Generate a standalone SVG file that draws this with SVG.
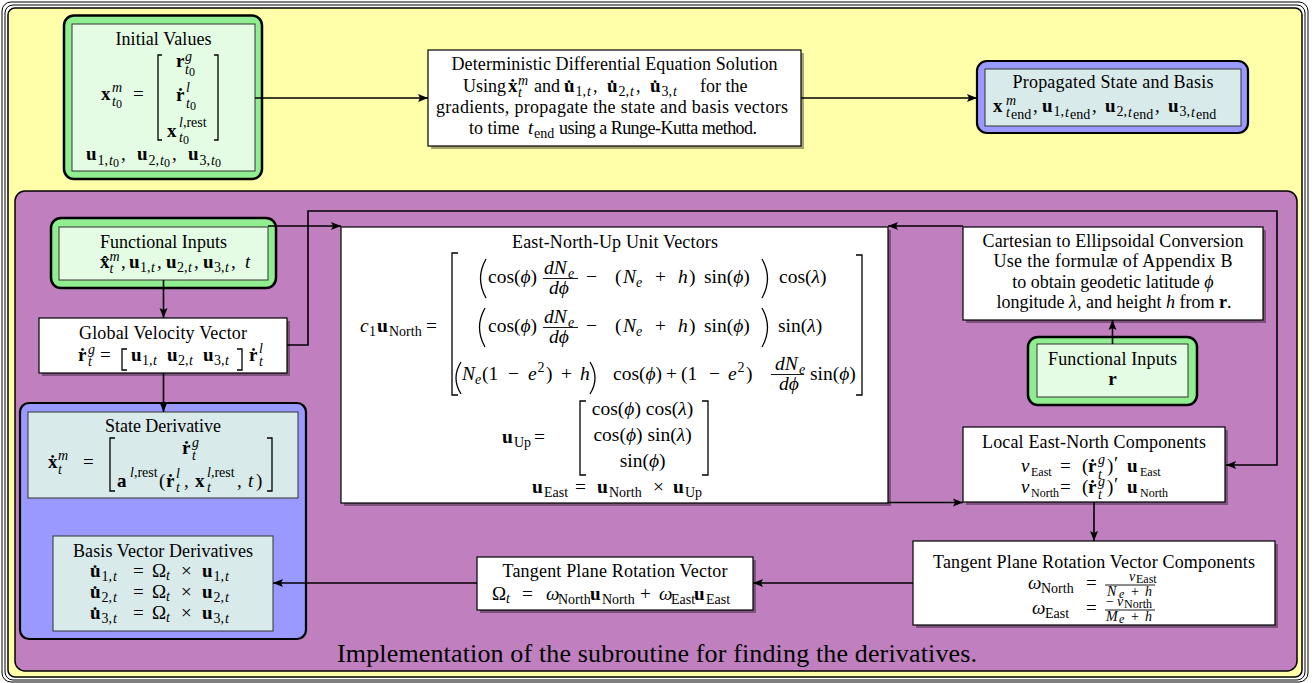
<svg xmlns="http://www.w3.org/2000/svg" width="1312" height="683" viewBox="0 0 1312 683">
<style>
.t{font-family:"Liberation Serif","DejaVu Serif",serif;font-size:18px;fill:#000}
.mid{text-anchor:middle}
.m{font-size:19px}
.e{font-size:19.5px}
.b{font-weight:700}
.i{font-style:italic}
.s{font-size:14px}
.xs{font-size:12px}
.cap{font-size:26px}
.box{fill:#fff;stroke:#000;stroke-width:1.2}
.sh{fill:#000;opacity:.35}
.gout{fill:#90EE90;stroke:#000;stroke-width:2.5}
.gin{fill:#E3FCE3;stroke:#333;stroke-width:1}
.bout{fill:#9999FF;stroke:#000;stroke-width:2.2}
.bin{fill:#D8EAEA;stroke:#333;stroke-width:1}
.br{fill:none;stroke:#000;stroke-width:1.3}
.fb{fill:none;stroke:#000;stroke-width:0.9}
.ln{fill:none;stroke:#000;stroke-width:1.6;marker-end:url(#ah)}
</style>
<defs>
<marker id="ah" viewBox="0 0 10 10" refX="10" refY="5" markerWidth="10" markerHeight="10" markerUnits="userSpaceOnUse" orient="auto">
<path d="M0,1 L10,5 L0,9 L2,5 z" fill="#000"/>
</marker>
</defs>

<!-- frame -->
<rect x="2" y="2" width="1306" height="680" rx="9" fill="#fff" stroke="#000" stroke-width="1"/>
<rect x="5" y="5" width="1300" height="675" rx="8" fill="none" stroke="#000" stroke-width="1"/>
<rect x="8" y="8" width="1294" height="669" rx="7" fill="#FFFFAA" stroke="#000" stroke-width="1.5"/>
<rect x="15" y="191" width="1282" height="480" rx="10" fill="#C080C0" stroke="#000" stroke-width="1.5"/>

<g id="initial-values">
<rect class="gout" x="64" y="15.5" width="198" height="163.5" rx="10"/>
<rect class="gin" x="72" y="24" width="183" height="147"/>
<text class="t mid" x="163.5" y="45" textLength="96">Initial Values</text>
<text class="t m">
<tspan class="b" x="101" y="100">x</tspan><tspan class="s i" x="112" y="92">m</tspan><tspan class="s i" x="112" y="106">t</tspan><tspan class="xs" x="116" y="108">0</tspan>
<tspan x="133" y="100">=</tspan>
<tspan class="b" x="176" y="67">r</tspan><tspan class="s i" x="185" y="61">g</tspan><tspan class="s i" x="185" y="74">t</tspan><tspan class="xs" x="189" y="76">0</tspan>
<tspan class="b" x="176" y="101">ṙ</tspan><tspan class="s i" x="186" y="92">l</tspan><tspan class="s i" x="186" y="108">t</tspan><tspan class="xs" x="190" y="110">0</tspan>
<tspan class="b" x="167" y="137">x</tspan><tspan class="s" x="179" y="127"><tspan class="i">l</tspan>,rest</tspan><tspan class="s i" x="179" y="142">t</tspan><tspan class="xs" x="183" y="144">0</tspan>
<tspan class="b" x="86" y="160">u</tspan><tspan class="s" x="97.5" y="165">1,</tspan><tspan class="s i" x="109" y="165">t</tspan><tspan class="xs" x="113" y="167">0</tspan><tspan x="121" y="160">,</tspan>
<tspan class="b" x="137" y="160">u</tspan><tspan class="s" x="148.5" y="165">2,</tspan><tspan class="s i" x="160" y="165">t</tspan><tspan class="xs" x="164" y="167">0</tspan><tspan x="172" y="160">,</tspan>
<tspan class="b" x="188" y="160">u</tspan><tspan class="s" x="199.5" y="165">3,</tspan><tspan class="s i" x="211" y="165">t</tspan><tspan class="xs" x="215" y="167">0</tspan>
</text>
<path class="br" d="M162,55 H158 V140 H162 M214,55 H218 V140 H214"/>
</g>

<g id="dde">
<rect class="sh" x="431" y="53" width="373" height="96"/>
<rect class="box" x="428" y="50" width="373" height="96"/>
<text class="t mid" x="614.5" y="70" textLength="326">Deterministic Differential Equation Solution</text>
<text class="t">
<tspan x="463" y="92">Using</tspan>
<tspan class="b m" x="508" y="92">ẋ</tspan><tspan class="s i" x="518" y="85">m</tspan><tspan class="s i" x="518" y="97">t</tspan>
<tspan x="534" y="92">and</tspan>
<tspan class="b m" x="564" y="92">u̇</tspan><tspan class="s" x="575.5" y="96">1,</tspan><tspan class="s i" x="587" y="96">t</tspan><tspan x="593" y="92">,</tspan>
<tspan class="b m" x="607" y="92">u̇</tspan><tspan class="s" x="618.5" y="96">2,</tspan><tspan class="s i" x="630" y="96">t</tspan><tspan x="636" y="92">,</tspan>
<tspan class="b m" x="650" y="92">u̇</tspan><tspan class="s" x="661.5" y="96">3,</tspan><tspan class="s i" x="673" y="96">t</tspan>
<tspan x="700" y="92">for the</tspan>
</text>
<text class="t mid" x="612" y="113" textLength="352">gradients, propagate the state and basis vectors</text>
<text class="t">
<tspan x="469" y="134">to time</tspan><tspan class="i m" x="528" y="134">t</tspan><tspan class="s" x="534" y="138">end</tspan>
<tspan x="559" y="134" textLength="198">using a Runge-Kutta method.</tspan>
</text>
</g>

<g id="propagated">
<rect class="bout" x="977" y="61" width="271" height="72" rx="10"/>
<rect class="bin" x="985" y="69" width="256" height="57"/>
<text class="t mid" x="1113" y="88" textLength="201">Propagated State and Basis</text>
<text class="t m">
<tspan class="b" x="993" y="112">x</tspan><tspan class="s i" x="1006" y="105">m</tspan><tspan class="s i" x="1006" y="117">t</tspan><tspan class="s" x="1011" y="119">end</tspan><tspan x="1033" y="112">,</tspan>
<tspan class="b" x="1042" y="112">u</tspan><tspan class="s" x="1053.5" y="116">1,</tspan><tspan class="s i" x="1065" y="117">t</tspan><tspan class="s" x="1070" y="119">end</tspan><tspan x="1092" y="112">,</tspan>
<tspan class="b" x="1105" y="112">u</tspan><tspan class="s" x="1116.5" y="116">2,</tspan><tspan class="s i" x="1128" y="117">t</tspan><tspan class="s" x="1133" y="119">end</tspan><tspan x="1155" y="112">,</tspan>
<tspan class="b" x="1168" y="112">u</tspan><tspan class="s" x="1179.5" y="116">3,</tspan><tspan class="s i" x="1191" y="117">t</tspan><tspan class="s" x="1196" y="119">end</tspan>
</text>
</g>

<g id="functional-inputs-left">
<rect class="gout" x="51" y="218" width="225" height="70" rx="10"/>
<rect class="gin" x="59" y="227" width="209" height="53"/>
<text class="t mid" x="163.5" y="248" textLength="127">Functional Inputs</text>
<text class="t m">
<tspan class="b" x="100" y="268">x̂</tspan><tspan class="s i" x="109.5" y="261">m</tspan><tspan class="s i" x="109.5" y="273">t</tspan><tspan x="121" y="268">,</tspan>
<tspan class="b" x="129" y="268">u</tspan><tspan class="s" x="140" y="272">1,</tspan><tspan class="s i" x="151" y="272">t</tspan><tspan x="157" y="268">,</tspan>
<tspan class="b" x="166" y="268">u</tspan><tspan class="s" x="177" y="272">2,</tspan><tspan class="s i" x="188" y="272">t</tspan><tspan x="194" y="268">,</tspan>
<tspan class="b" x="203" y="268">u</tspan><tspan class="s" x="214" y="272">3,</tspan><tspan class="s i" x="225" y="272">t</tspan><tspan x="231" y="268">,</tspan>
<tspan class="i" x="245" y="268">t</tspan>
</text>
</g>

<g id="global-velocity">
<rect class="sh" x="42" y="321" width="248" height="55"/>
<rect class="box" x="39" y="318" width="248" height="55"/>
<text class="t mid" x="163" y="339" textLength="168">Global Velocity Vector</text>
<text class="t m">
<tspan class="b" x="78" y="361">ṙ</tspan><tspan class="s i" x="88" y="354">g</tspan><tspan class="s i" x="88" y="366">t</tspan>
<tspan x="100" y="361">=</tspan>
<tspan class="b" x="131" y="361">u</tspan><tspan class="s" x="142" y="365">1,</tspan><tspan class="s i" x="153" y="365">t</tspan>
<tspan class="b" x="167" y="361">u</tspan><tspan class="s" x="178" y="365">2,</tspan><tspan class="s i" x="189" y="365">t</tspan>
<tspan class="b" x="203" y="361">u</tspan><tspan class="s" x="214" y="365">3,</tspan><tspan class="s i" x="225" y="365">t</tspan>
<tspan class="b" x="249" y="361">ṙ</tspan><tspan class="s i" x="259" y="353">l</tspan><tspan class="s i" x="259" y="366">t</tspan>
</text>
<path class="br" d="M127,349 H122 V370 H127 M237,349 H242 V370 H237"/>
</g>

<g id="derivatives">
<rect class="bout" x="20" y="403" width="286" height="236" rx="9"/>
<g id="state-derivative">
<rect class="bin" x="28" y="412" width="270" height="86"/>
<text class="t mid" x="163" y="432" textLength="116">State Derivative</text>
<text class="t m">
<tspan class="b" x="48" y="468">ẋ</tspan><tspan class="s i" x="58" y="460">m</tspan><tspan class="s i" x="58" y="474">t</tspan>
<tspan x="83" y="468">=</tspan>
<tspan class="b" x="182" y="454">ṙ</tspan><tspan class="s i" x="192" y="447">g</tspan><tspan class="s i" x="192" y="460">t</tspan>
<tspan class="b" x="117" y="487">a</tspan><tspan class="s" x="130" y="477"><tspan class="i">l</tspan>,rest</tspan>
<tspan x="159" y="487">(</tspan><tspan class="b" x="166" y="487">ṙ</tspan><tspan class="s i" x="176" y="478">l</tspan><tspan class="s i" x="176" y="492">t</tspan><tspan x="184" y="487">,</tspan>
<tspan class="b" x="195" y="487">x</tspan><tspan class="s" x="207" y="477"><tspan class="i">l</tspan>,rest</tspan><tspan class="s i" x="207" y="492">t</tspan><tspan x="237" y="487">,</tspan>
<tspan class="i" x="248" y="487">t</tspan><tspan x="256" y="487">)</tspan>
</text>
<path class="br" d="M115,438 H110 V491 H115 M267,438 H272 V491 H267"/>
</g>
<g id="basis-derivatives">
<rect class="bin" x="53" y="536" width="220" height="95"/>
<text class="t mid" x="163" y="557" textLength="180">Basis Vector Derivatives</text>
<text class="t m">
<tspan class="b" x="90" y="577">u̇</tspan><tspan class="s" x="101.5" y="581">1,</tspan><tspan class="s i" x="113" y="581">t</tspan><tspan x="133" y="577">=</tspan><tspan x="152" y="577">Ω</tspan><tspan class="s i" x="166" y="580">t</tspan><tspan x="181" y="577">×</tspan><tspan class="b" x="202" y="577">u</tspan><tspan class="s" x="213.5" y="581">1,</tspan><tspan class="s i" x="225" y="581">t</tspan>
<tspan class="b" x="90" y="598">u̇</tspan><tspan class="s" x="101.5" y="602">2,</tspan><tspan class="s i" x="113" y="602">t</tspan><tspan x="133" y="598">=</tspan><tspan x="152" y="598">Ω</tspan><tspan class="s i" x="166" y="601">t</tspan><tspan x="181" y="598">×</tspan><tspan class="b" x="202" y="598">u</tspan><tspan class="s" x="213.5" y="602">2,</tspan><tspan class="s i" x="225" y="602">t</tspan>
<tspan class="b" x="90" y="619">u̇</tspan><tspan class="s" x="101.5" y="623">3,</tspan><tspan class="s i" x="113" y="623">t</tspan><tspan x="133" y="619">=</tspan><tspan x="152" y="619">Ω</tspan><tspan class="s i" x="166" y="622">t</tspan><tspan x="181" y="619">×</tspan><tspan class="b" x="202" y="619">u</tspan><tspan class="s" x="213.5" y="623">3,</tspan><tspan class="s i" x="225" y="623">t</tspan>
</text>
</g>
</g>

<g id="enu">
<rect class="sh" x="344" y="230" width="547" height="276"/>
<rect class="box" x="341" y="227" width="547" height="276"/>
<text class="t mid" x="615" y="248" textLength="206">East-North-Up Unit Vectors</text>
<text class="t e">
<tspan class="i" x="360" y="332">c</tspan><tspan class="s" x="369" y="336">1</tspan><tspan class="b" x="377" y="332">u</tspan><tspan class="s" x="389" y="336">North</tspan><tspan x="426" y="332">=</tspan>

<tspan x="488" y="283">cos(<tspan class="i">ϕ</tspan>)</tspan>
<tspan class="i" x="544" y="274">dN</tspan><tspan class="s i" x="568" y="278">e</tspan>
<tspan class="i" x="549" y="294">dϕ</tspan>
<tspan x="586" y="283">−</tspan>
<tspan x="615" y="283">(</tspan><tspan class="i" x="623" y="283">N</tspan><tspan class="s i" x="636" y="287">e</tspan>
<tspan x="655" y="283">+</tspan><tspan class="i" x="678" y="283">h</tspan><tspan x="689" y="283">)</tspan>
<tspan x="704" y="283">sin(<tspan class="i">ϕ</tspan>)</tspan>
<tspan x="779" y="283">cos(<tspan class="i">λ</tspan>)</tspan>

<tspan x="488" y="332">cos(<tspan class="i">ϕ</tspan>)</tspan>
<tspan class="i" x="544" y="323">dN</tspan><tspan class="s i" x="568" y="327">e</tspan>
<tspan class="i" x="549" y="343">dϕ</tspan>
<tspan x="586" y="332">−</tspan>
<tspan x="615" y="332">(</tspan><tspan class="i" x="623" y="332">N</tspan><tspan class="s i" x="636" y="336">e</tspan>
<tspan x="655" y="332">+</tspan><tspan class="i" x="678" y="332">h</tspan><tspan x="689" y="332">)</tspan>
<tspan x="704" y="332">sin(<tspan class="i">ϕ</tspan>)</tspan>
<tspan x="778" y="332">sin(<tspan class="i">λ</tspan>)</tspan>

<tspan class="i" x="462" y="380">N</tspan><tspan class="s i" x="475" y="384">e</tspan>
<tspan x="482" y="380">(1</tspan><tspan x="508" y="380">−</tspan><tspan class="i" x="528" y="380">e</tspan><tspan class="s" x="537.5" y="372">2</tspan><tspan x="546" y="380">)</tspan>
<tspan x="561" y="380">+</tspan><tspan class="i" x="580" y="380">h</tspan>
<tspan x="613" y="380">cos(<tspan class="i">ϕ</tspan>)</tspan><tspan x="666" y="380">+</tspan><tspan x="681" y="380">(1</tspan><tspan x="709" y="380">−</tspan><tspan class="i" x="728" y="380">e</tspan><tspan class="s" x="737.5" y="372">2</tspan><tspan x="746" y="380">)</tspan>
<tspan class="i" x="775" y="370">dN</tspan><tspan class="s i" x="799" y="374">e</tspan>
<tspan class="i" x="779" y="390">dϕ</tspan>
<tspan x="810" y="380">sin(<tspan class="i">ϕ</tspan>)</tspan>

<tspan class="b" x="502" y="443">u</tspan><tspan class="s" x="514" y="447">Up</tspan><tspan x="534" y="443">=</tspan>
<tspan x="645" y="415" text-anchor="middle">cos(<tspan class="i">ϕ</tspan>) cos(<tspan class="i">λ</tspan>)</tspan>
<tspan x="645" y="441" text-anchor="middle">cos(<tspan class="i">ϕ</tspan>) sin(<tspan class="i">λ</tspan>)</tspan>
<tspan x="645" y="467" text-anchor="middle">sin(<tspan class="i">ϕ</tspan>)</tspan>

<tspan class="b" x="532" y="493">u</tspan><tspan class="s" x="544" y="497">East</tspan><tspan x="575" y="493">=</tspan>
<tspan class="b" x="597" y="493">u</tspan><tspan class="s" x="609" y="497">North</tspan><tspan x="653" y="493">×</tspan>
<tspan class="b" x="673" y="493">u</tspan><tspan class="s" x="685" y="497">Up</tspan>
</text>
<path class="br" d="M458,253 H452 V395 H458 M856,255 H862 V395 H856 M586,401 H580 V475 H586 M702,401 H708 V475 H702"/>
<path class="br" d="M486,259 Q475,278.5 486,298 M762,259 Q773,278.5 762,298 M485,308 Q474,327.5 485,347 M762,308 Q773,327.5 762,347 M461,362 Q451,378 461,394 M590,362 Q600,378 590,394"/>
<path class="fb" d="M543,278.5 H578 M543,327.5 H578 M771,374.5 H804"/>
</g>

<g id="cartesian">
<rect class="sh" x="966" y="230" width="300" height="93"/>
<rect class="box" x="963" y="227" width="300" height="93"/>
<text class="t mid" x="1113" y="247" textLength="261">Cartesian to Ellipsoidal Conversion</text>
<text class="t mid" x="1113" y="267" textLength="239">Use the formulæ of Appendix B</text>
<text class="t mid" x="1113" y="288">to obtain geodetic latitude <tspan class="i">ϕ</tspan></text>
<text class="t mid" x="1114" y="308">longitude <tspan class="i">λ</tspan>, and height <tspan class="i">h</tspan> from <tspan class="b">r</tspan>.</text>
</g>

<g id="functional-inputs-r">
<rect class="gout" x="1028" y="337" width="169" height="68" rx="10"/>
<rect class="gin" x="1037" y="344" width="151" height="53"/>
<text class="t mid" x="1112.5" y="365" textLength="129">Functional Inputs</text>
<text class="t mid b m" x="1112.5" y="385">r</text>
</g>

<g id="local-east-north">
<rect class="sh" x="966" y="430" width="262" height="75"/>
<rect class="box" x="963" y="427" width="262" height="75"/>
<text class="t mid" x="1094" y="448" textLength="224">Local East-North Components</text>
<text class="t m">
<tspan class="i" x="1021" y="472">v</tspan><tspan class="xs" x="1031" y="476">East</tspan><tspan x="1060" y="472">=</tspan><tspan x="1082" y="472">(</tspan><tspan class="b" x="1088" y="472">ṙ</tspan><tspan class="s i" x="1098" y="464">g</tspan><tspan class="s i" x="1098" y="479">t</tspan><tspan x="1107" y="472">)</tspan><tspan x="1114" y="470">′</tspan><tspan class="b" x="1127" y="472">u</tspan><tspan class="xs" x="1140" y="476">East</tspan>
<tspan class="i" x="1021" y="493">v</tspan><tspan class="xs" x="1031" y="497">North</tspan><tspan x="1060" y="493">=</tspan><tspan x="1082" y="493">(</tspan><tspan class="b" x="1088" y="493">ṙ</tspan><tspan class="s i" x="1098" y="486">g</tspan><tspan class="s i" x="1098" y="499">t</tspan><tspan x="1107" y="493">)</tspan><tspan x="1114" y="491">′</tspan><tspan class="b" x="1127" y="493">u</tspan><tspan class="xs" x="1140" y="497">North</tspan>
</text>
</g>

<g id="tprv-components">
<rect class="sh" x="916" y="544" width="362" height="84"/>
<rect class="box" x="913" y="541" width="362" height="84"/>
<text class="t mid" x="1094" y="568" textLength="322">Tangent Plane Rotation Vector Components</text>
<text class="t m">
<tspan class="i" x="1028" y="589">ω</tspan><tspan class="s" x="1041" y="593">North</tspan><tspan x="1086" y="589">=</tspan>
<tspan class="s i" x="1129" y="581">v</tspan><tspan class="xs" x="1136" y="583">East</tspan>
<tspan class="s i" x="1107" y="596">N</tspan><tspan class="xs i" x="1119" y="598">e</tspan><tspan class="s" x="1131" y="596">+</tspan><tspan class="s i" x="1145" y="596">h</tspan>
<tspan class="i" x="1032" y="614">ω</tspan><tspan class="s" x="1045" y="618">East</tspan><tspan x="1086" y="614">=</tspan>
<tspan class="s" x="1106" y="606">−</tspan><tspan class="s i" x="1117" y="606">v</tspan><tspan class="xs" x="1124" y="608">North</tspan>
<tspan class="s i" x="1106" y="621">M</tspan><tspan class="xs i" x="1119" y="623">e</tspan><tspan class="s" x="1131" y="621">+</tspan><tspan class="s i" x="1145" y="621">h</tspan>
</text>
<path class="fb" d="M1105,585 H1155 M1105,610 H1155"/>
</g>

<g id="tprv">
<rect class="sh" x="480" y="560" width="276" height="53"/>
<rect class="box" x="477" y="557" width="276" height="53"/>
<text class="t mid" x="615" y="577" textLength="225">Tangent Plane Rotation Vector</text>
<text class="t m">
<tspan x="492" y="600">Ω</tspan><tspan class="s i" x="506" y="603">t</tspan><tspan x="522" y="600">=</tspan>
<tspan class="i" x="546" y="600">ω</tspan><tspan class="s" x="558" y="604">North</tspan><tspan class="b" x="590" y="600">u</tspan><tspan class="s" x="602" y="604">North</tspan>
<tspan x="640" y="600">+</tspan><tspan class="i" x="659" y="600">ω</tspan><tspan class="s" x="671" y="604">East</tspan><tspan class="b" x="694" y="600">u</tspan><tspan class="s" x="706" y="604">East</tspan>
</text>
</g>

<text class="t cap mid" x="657" y="662" textLength="640">Implementation of the subroutine for finding the derivatives.</text>

<g id="connectors">
<path class="ln" d="M255,98 H428"/>
<path class="ln" d="M801,98 H977"/>
<path class="ln" d="M163.5,280 V318"/>
<path class="ln" d="M163.5,373 V412"/>
<path class="ln" d="M287,345 H308 V211 H1277 V465 H1226"/>
<path class="ln" d="M268,226 H341"/>
<path class="ln" d="M963,226 H888"/>
<path class="ln" d="M888,502.5 H963"/>
<path class="ln" d="M1112.5,344 V320"/>
<path class="ln" d="M1094,502 V541"/>
<path class="ln" d="M913,583 H753"/>
<path class="ln" d="M477,583 H273"/>
</g>
</svg>
